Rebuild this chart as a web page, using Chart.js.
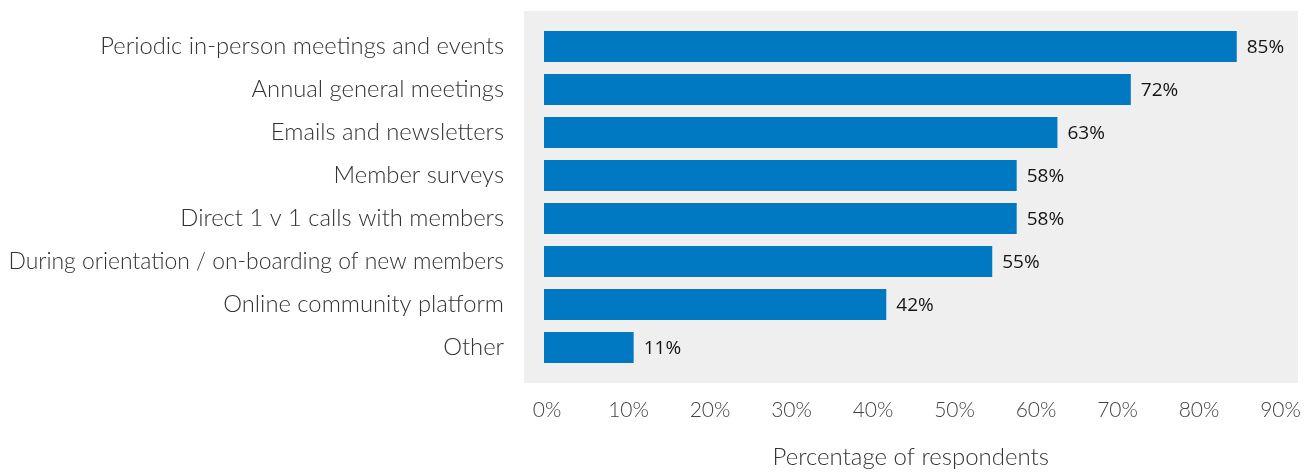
<!DOCTYPE html>
<html>
<head>
<meta charset="utf-8">
<script src="https://cdn.jsdelivr.net/npm/chart.js@4.4.1/dist/chart.umd.min.js"></script>
<style>
  html, body { margin: 0; padding: 0; background: #ffffff; }
  #wrap { width: 1306px; height: 472px; }
</style>
</head>
<body>
<div id="wrap"><canvas id="myChart" width="1306" height="472"></canvas></div>
<script>
var categories = [
  "Periodic in-person meetings and events",
  "Annual general meetings",
  "Emails and newsletters",
  "Member surveys",
  "Direct 1 v 1 calls with members",
  "During orientation / on-boarding of new members",
  "Online community platform",
  "Other",
];
var shares = [85, 72, 63, 58, 58, 55, 42, 11];
var tickValues = [0, 10, 20, 30, 40, 50, 60, 70, 80, 90];

// grey panel behind the bars, a little wider than the chart area
var panel = {
  id: "panel",
  beforeDraw: function (chart) {
    var a = chart.chartArea;
    var c = chart.ctx;
    c.save();
    c.fillStyle = "#efefef";
    c.fillRect(a.left - 20, a.top - 14, a.right - a.left + 40.5, a.bottom - a.top + 28);
    c.restore();
  },
};

// percentage text at the end of each bar
var valueLabels = {
  id: "valueLabels",
  afterDatasetsDraw: function (chart) {
    var c = chart.ctx;
    var meta = chart.getDatasetMeta(0);
    c.save();
    c.font = "19px 'Open Sans'";
    c.fillStyle = "#151515";
    c.textAlign = "left";
    c.textBaseline = "middle";
    meta.data.forEach(function (bar, i) {
      c.fillText(shares[i] + "%", bar.x + 10, bar.y + 1);
    });
    c.restore();
  },
};

var ctx = document.getElementById("myChart");
var myChart = new Chart(ctx, {
  type: "bar",
  data: {
    labels: categories,
    datasets: [
      {
        label: "Share",
        data: shares,
        backgroundColor: "#0079c2",
        borderWidth: 0,
        categoryPercentage: 1,
        barPercentage: 0.72,
      },
    ],
  },
  options: {
    indexAxis: "y",
    responsive: false,
    animation: false,
    layout: {
      padding: { top: 25, right: 28.5, bottom: 0, left: 0 },
    },
    plugins: {
      legend: { display: false },
      tooltip: { enabled: false },
    },
    scales: {
      y: {
        grid: { display: false },
        border: { display: false },
        afterFit: function (scale) {
          scale.width = 544;
          scale.paddingTop = 0;
          scale.paddingBottom = 0;
        },
        ticks: {
          padding: 32,
          color: "#333333",
          font: function (c) {
            // the long onboarding label runs a touch narrower
            return { family: "Lato", weight: 300, size: c.index === 5 ? 22.9 : 23.8 };
          },
        },
      },
      x: {
        min: 0,
        max: 90,
        grid: { display: false },
        border: { display: false },
        afterFit: function (scale) {
          scale.height = 103;
          scale.paddingLeft = 0;
          scale.paddingRight = 0;
        },
        afterBuildTicks: function (scale) {
          scale.ticks = tickValues.map(function (v) {
            return { value: v };
          });
        },
        ticks: {
          padding: 21,
          labelOffset: 3,
          maxRotation: 0,
          color: "#444444",
          font: { family: "Lato", weight: 300, size: 21 },
          callback: function (v) {
            return v + "%";
          },
        },
        title: {
          display: true,
          text: "Percentage of respondents",
          color: "#333333",
          padding: { top: 0, bottom: 0 },
          font: { family: "Lato", weight: 300, size: 24 },
        },
      },
    },
  },
  plugins: [panel, valueLabels],
});
</script>
</body>
</html>
